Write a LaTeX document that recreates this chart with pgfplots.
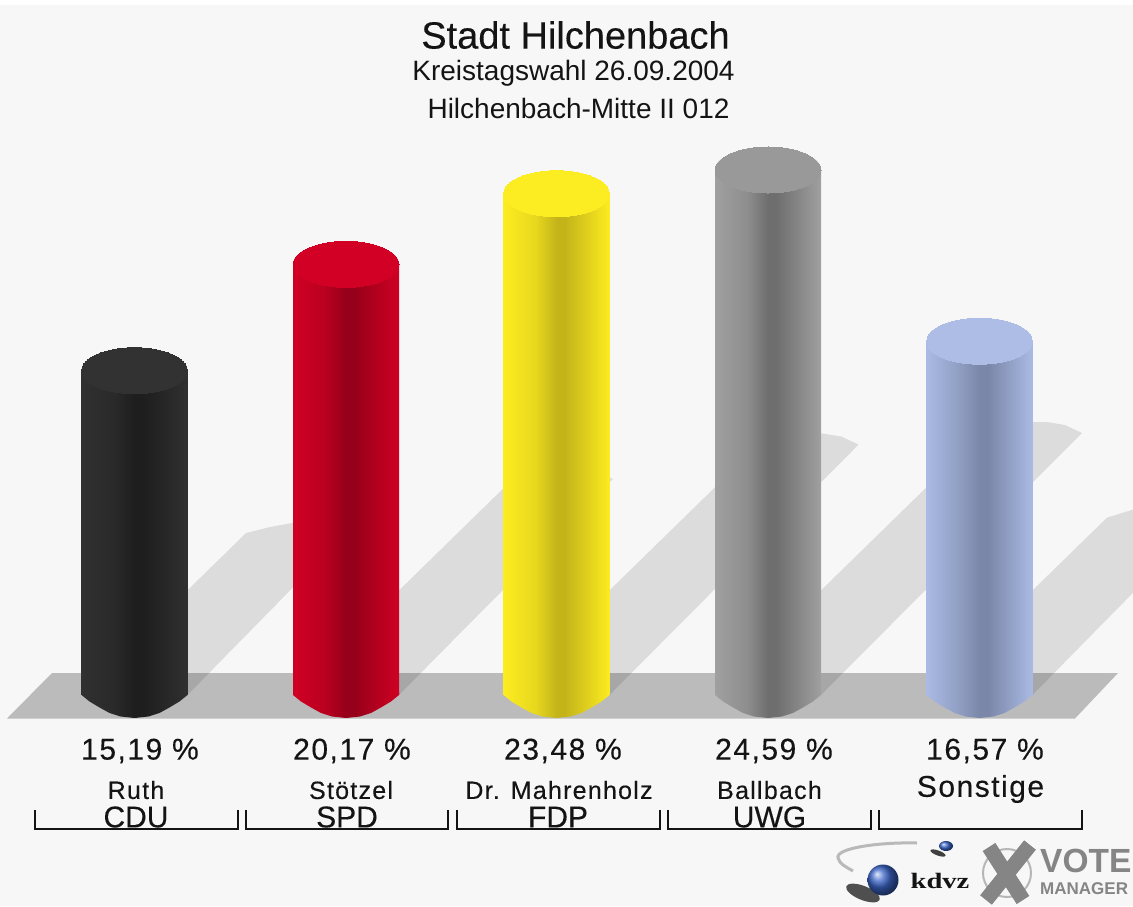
\documentclass[border=0pt]{standalone}
\usepackage{pgfplots}
\usepackage{pgfplotstable}
\usepackage{fontspec}
\pgfplotsset{compat=1.18}
\setmainfont{Liberation Sans}
\newfontfamily\heavy[FakeBold=0.25]{Liberation Sans}
\newfontfamily\tracked[LetterSpace=5,FakeBold=0.25]{Liberation Sans}
\newfontfamily\logoserif{Liberation Serif}
\definecolor{ink}{HTML}{141414}
\definecolor{logogray}{HTML}{858585}
\definecolor{logoblue}{HTML}{3C66C8}
\definecolor{capblack}{HTML}{323232}
\definecolor{capred}{HTML}{D20024}
\definecolor{capyellow}{HTML}{FCEC22}
\definecolor{capgray}{HTML}{999999}
\definecolor{capblue}{HTML}{ADBDE6}
\newcommand{\cyl}[4]{\pgfdeclarehorizontalshading{#1}{100bp}{color(0bp)=(#2); color(25bp)=(#2); color(40bp)=(#3); color(50bp)=(#4); color(54bp)=(#4); color(75bp)=(#2); color(100bp)=(#2)}}
\definecolor{ba}{HTML}{303030}\definecolor{bb}{HTML}{2A2A2A}\definecolor{bc}{HTML}{1E1E1E}
\definecolor{ra}{HTML}{D00023}\definecolor{rb}{HTML}{BA0020}\definecolor{rc}{HTML}{96001A}
\definecolor{ya}{HTML}{FCEC20}\definecolor{yb}{HTML}{E8D81E}\definecolor{yc}{HTML}{C4B41A}
\definecolor{ga}{HTML}{A0A0A0}\definecolor{gb}{HTML}{8E8E8E}\definecolor{gc}{HTML}{6E6E6E}
\definecolor{ua}{HTML}{AABAE4}\definecolor{ub}{HTML}{919FC4}\definecolor{uc}{HTML}{7A87A8}
\cyl{cylblack}{ba}{bb}{bc}
\cyl{cylred}{ra}{rb}{rc}
\cyl{cylyellow}{ya}{yb}{yc}
\cyl{cylgray}{ga}{gb}{gc}
\cyl{cylblue}{ua}{ub}{uc}
\pgfplotstableread{
u v
-53 0.15
-53 0
-45 -0.304
-35 -0.585
-25 -0.843
-14 -1.007
0 -1.077
14 -1.007
25 -0.843
35 -0.585
45 -0.304
53 0
53 0.15
}\bottomhalf
\newcommand{\fsz}[1]{\fontsize{#1}{#1}\selectfont}
\begin{document}
\begin{tikzpicture}
% pixel-space layer: background, floor, shadows, labels, brackets, logo
\begin{axis}[name=px,at={(0,0)},anchor=south west,scale only axis,width=1133pt,height=906pt,
  xmin=0,xmax=1133,ymin=0,ymax=906,y dir=reverse,axis lines=none,clip=true]
\addplot[fill=white,draw=none] coordinates {(0,0)(1133,0)(1133,906)(0,906)} --cycle;
\addplot[fill=white!96.9!black,draw=none] coordinates {(0,5)(1133,5)(1133,906)(0,906)} --cycle;
\addplot[fill=white!73.5!black,draw=none] coordinates {(7,718.5)(1075,718.5)(1118,673)(52,673)} --cycle;
\addplot[fill=black,fill opacity=0.105,draw=none] coordinates {(187.5,695)(348.3,531)(331.3,525)(313.3,521)(292,523)(270,527)(246,533)(85.5,690)} --cycle;
\addplot[fill=black,fill opacity=0.105,draw=none] coordinates {(399,695)(612.9,479)(595.9,471)(577.9,468)(560.9,468)(540.9,471)(511.9,480)(297,690)} --cycle;
\addplot[fill=black,fill opacity=0.105,draw=none] coordinates {(609.5,695)(858.6,444.6)(841.6,436.6)(823.6,433.6)(806.6,433.6)(786.6,436.6)(757.6,445.6)(507.5,690)} --cycle;
\addplot[fill=black,fill opacity=0.105,draw=none] coordinates {(821,695)(1082,433)(1065,425)(1047,422)(1030,422)(1010,425)(981,434)(719,690)} --cycle;
\addplot[fill=black,fill opacity=0.105,draw=none] coordinates {(1032.5,695)(1208,516.6)(1191,508.6)(1173,505.6)(1156,505.6)(1136,508.6)(1107,517.6)(930.5,690)} --cycle;
% brackets
\addplot[ink,line width=2pt] coordinates {(35,810)(35,828.5)(238,828.5)(238,810)};
\addplot[ink,line width=2pt] coordinates {(246,810)(246,828.5)(448,828.5)(448,810)};
\addplot[ink,line width=2pt] coordinates {(457,810)(457,828.5)(660,828.5)(660,810)};
\addplot[ink,line width=2pt] coordinates {(668,810)(668,828.5)(871,828.5)(871,810)};
\addplot[ink,line width=2pt] coordinates {(879,810)(879,828.5)(1082,828.5)(1082,810)};
% titles
\node[text=ink,font=\heavy\fsz{38}] at (axis cs:575.5,35) {Stadt Hilchenbach};
\node[text=ink,font=\fsz{28}] at (axis cs:573.5,73.5) {Kreistagswahl 26.09.2004};
\node[text=ink,font=\fsz{28}] at (axis cs:578.5,108) {Hilchenbach-Mitte II 012};
% percentages
\node[text=ink,font=\tracked\fsz{30}] at (axis cs:140,751) {15,19 \%};
\node[text=ink,font=\tracked\fsz{30}] at (axis cs:352,751) {20,17 \%};
\node[text=ink,font=\tracked\fsz{30}] at (axis cs:563,751) {23,48 \%};
\node[text=ink,font=\tracked\fsz{30}] at (axis cs:774,751) {24,59 \%};
\node[text=ink,font=\tracked\fsz{30}] at (axis cs:985,751) {16,57 \%};
% names
\node[text=ink,font=\tracked\fsz{25}] at (axis cs:136,790) {Ruth};
\node[text=ink,font=\tracked\fsz{25}] at (axis cs:351,790) {Stötzel};
\node[text=ink,font=\tracked\fsz{25}] at (axis cs:559,790) {Dr. Mahrenholz};
\node[text=ink,font=\tracked\fsz{25}] at (axis cs:769.5,790) {Ballbach};
\node[text=ink,font=\tracked\fsz{30}] at (axis cs:980.5,789) {Sonstige};
\node[text=ink,font=\heavy\fsz{30}] at (axis cs:136,817) {CDU};
\node[text=ink,font=\heavy\fsz{30}] at (axis cs:347,817) {SPD};
\node[text=ink,font=\heavy\fsz{30}] at (axis cs:558,817) {FDP};
\node[text=ink,font=\heavy\fsz{30}] at (axis cs:769.5,817) {UWG};
% logo
\draw[gray!55,line width=3pt] (axis cs:917,843) .. controls (axis cs:880,842) and (axis cs:835,848) .. (axis cs:838,858) .. controls (axis cs:839,864) and (axis cs:848,868) .. (axis cs:853,871);
\fill[black!85,opacity=.8,rotate around={-22:(axis cs:863,893)}] (axis cs:863,893) ellipse [x radius=18pt,y radius=7pt];
\shade[ball color=logoblue] (axis cs:883,880) circle [radius=15.5pt];
\fill[black!75,rotate around={-20:(axis cs:938,853)}] (axis cs:938,853) ellipse [x radius=8pt,y radius=2.5pt];
\shade[ball color=logoblue] (axis cs:946,846) ellipse [x radius=7pt,y radius=5pt];
\node[text=ink,font=\logoserif\bfseries\fsz{22},xscale=1.3] at (axis cs:940,881) {kdvz};
\draw[logogray!60,line width=2pt] (axis cs:1007,873) circle [radius=24pt];
\draw[logogray,line width=15pt] (axis cs:989,847) -- (axis cs:1023,900);
\draw[logogray,line width=15pt] (axis cs:1030,845) -- (axis cs:986,900);
\node[text=logogray,font=\bfseries\fsz{33.5},anchor=west,inner sep=0pt] at (axis cs:1040,861) {VOTE};
\node[text=logogray,font=\bfseries\fsz{17},anchor=west,inner sep=0pt] at (axis cs:1040,889) {MANAGER};
\end{axis}
% percent layer: the cylinders
\begin{axis}[at={(0,0)},anchor=south west,scale only axis,width=1133pt,height=906pt,
  xmin=0,xmax=1133,ymin=-9.883,ymax=32.553,axis lines=none,clip=true,
  ybar,bar shift=0pt,bar width=106pt]
\addplot[ybar,shade,shading=cylblack,draw=none] coordinates {(134.5,15.19)};
\addplot[ybar,shade,shading=cylred,draw=none] coordinates {(346,20.17)};
\addplot[ybar,shade,shading=cylyellow,draw=none] coordinates {(556.5,23.48)};
\addplot[ybar,shade,shading=cylgray,draw=none] coordinates {(768,24.59)};
\addplot[ybar,shade,shading=cylblue,draw=none] coordinates {(979.5,16.57)};
\addplot[sharp plot,shade,shading=cylblack,draw=none] table[x expr=\thisrow{u}+134.5,y=v] {\bottomhalf} --cycle;
\addplot[sharp plot,shade,shading=cylred,draw=none] table[x expr=\thisrow{u}+346,y=v] {\bottomhalf} --cycle;
\addplot[sharp plot,shade,shading=cylyellow,draw=none] table[x expr=\thisrow{u}+556.5,y=v] {\bottomhalf} --cycle;
\addplot[sharp plot,shade,shading=cylgray,draw=none] table[x expr=\thisrow{u}+768,y=v] {\bottomhalf} --cycle;
\addplot[sharp plot,shade,shading=cylblue,draw=none] table[x expr=\thisrow{u}+979.5,y=v] {\bottomhalf} --cycle;
\addplot[sharp plot,only marks,mark=*,mark size=53pt,mark options={yscale=0.434,fill=capblack,draw=capblack,line width=0pt}] coordinates {(134.5,15.19)};
\addplot[sharp plot,only marks,mark=*,mark size=53pt,mark options={yscale=0.434,fill=capred,draw=capred,line width=0pt}] coordinates {(346,20.17)};
\addplot[sharp plot,only marks,mark=*,mark size=53pt,mark options={yscale=0.434,fill=capyellow,draw=capyellow,line width=0pt}] coordinates {(556.5,23.48)};
\addplot[sharp plot,only marks,mark=*,mark size=53pt,mark options={yscale=0.434,fill=capgray,draw=capgray,line width=0pt}] coordinates {(768,24.59)};
\addplot[sharp plot,only marks,mark=*,mark size=53pt,mark options={yscale=0.434,fill=capblue,draw=capblue,line width=0pt}] coordinates {(979.5,16.57)};
\end{axis}
\end{tikzpicture}
\end{document}
